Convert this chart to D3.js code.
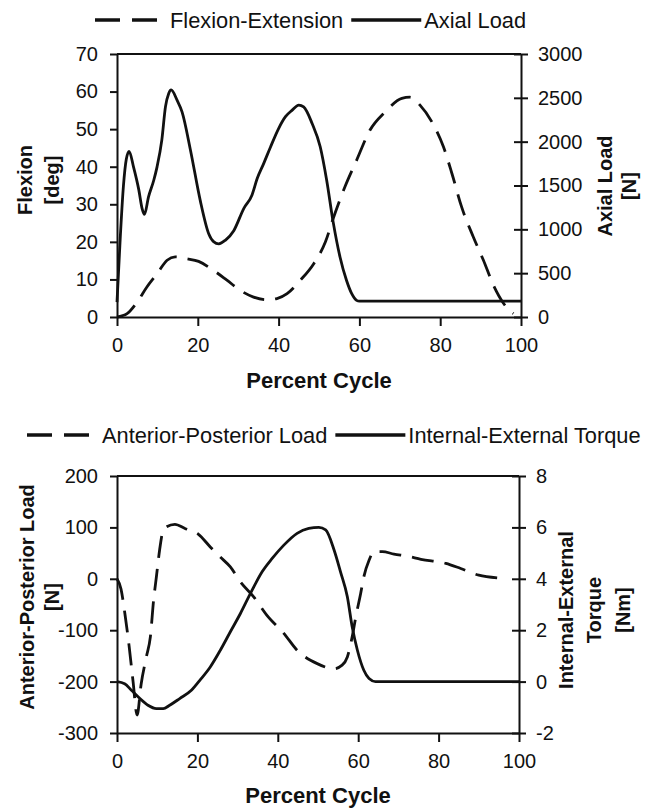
<!DOCTYPE html>
<html lang="en">
<head>
<meta charset="UTF-8">
<title>Gait Cycle Kinematics and Loads</title>
<script src="https://d3js.org/d3.v7.min.js"></script>
<style>
    body { margin: 0; background: #fff; }
    svg { display: block; font-family: "Liberation Sans", Arial, sans-serif; }
    .tick text { font-size: 20px; fill: #111; }
    .axis-title { font-size: 20px; font-weight: bold; fill: #111; }
    .x-title { font-size: 22px; }
    .legend text { font-size: 21.8px; fill: #111; }
</style>
</head>
<body>
<svg id="chart" width="664" height="809"></svg>
<script>
    // shared x axis (percent of cycle)
    const xTicks = [0, 20, 40, 60, 80, 100];

    // top panel: flexion-extension [deg] and axial load [N]
    const flexionPct = [0, 2.5, 5, 7.4, 9.9, 12.4, 14.4, 17.3, 20.2, 23.9, 27.2, 30.5, 33.8, 37.1, 39.6, 42.1, 45.4, 48.7, 51.6, 53.6, 56.4, 59.3, 62.6, 66.4, 70.5, 72.5, 75, 77.9, 80.8, 82.9, 85.3, 88.2, 90.7, 93.2, 95.7, 98.1];
    const flexionDeg = [0, 0.9, 4, 8, 11.5, 15.1, 16, 15.5, 14.8, 12.4, 9.8, 7.1, 5.3, 4.6, 4.9, 6.2, 9.8, 14.2, 20, 26.5, 34.6, 41.7, 49.7, 54.6, 58.2, 58.5, 56.4, 52, 45.3, 38.2, 29.3, 21.3, 15.1, 8.4, 3.6, 0.9];
    const axialPct = [0, 0.8, 1.6, 2.3, 3.0, 4.1, 5.4, 6.2, 6.8, 7.8, 9.1, 9.9, 11.1, 12.0, 12.8, 13.4, 14.9, 16.1, 18.2, 20.6, 22.7, 23.9, 25.2, 26.8, 28.9, 31.4, 33.4, 34.7, 36.3, 38, 40, 41.7, 43.3, 45, 46.2, 48.3, 50.3, 51.9, 53.5, 55.2, 56.8, 58.1, 59.3, 60, 100];
    const axialN = [170, 900, 1500, 1800, 1890, 1710, 1450, 1240, 1170, 1370, 1560, 1710, 2020, 2400, 2550, 2590, 2470, 2340, 1900, 1330, 950, 860, 835, 875, 985, 1240, 1390, 1580, 1750, 1940, 2150, 2285, 2357, 2417, 2396, 2207, 1942, 1561, 1085, 685, 419, 266, 190, 180, 180];
    const flexionTicks = [0, 10, 20, 30, 40, 50, 60, 70];
    const axialTicks = [0, 500, 1000, 1500, 2000, 2500, 3000];

    // bottom panel: anterior-posterior load [N] and internal-external torque [Nm]
    const apPct = [0, 1, 2, 3, 4, 5, 6, 7.3, 8.3, 9.1, 9.8, 10.6, 11.5, 12.3, 14.4, 16.9, 20.2, 23.2, 25.6, 28.2, 30.7, 34, 37.3, 41.5, 44.8, 49.8, 53.9, 56, 57.3, 58.5, 59.4, 60.6, 61.4, 62.7, 63.9, 66, 68.9, 72.2, 75.6, 81.8, 85.5, 90, 95.5, 97];
    const apN = [0, -20, -70, -130, -200, -265, -205, -152, -113, -42, 4, 56, 95, 101, 106, 98, 87, 62, 43, 23, -6, -35, -71, -106, -139, -165, -175, -168, -152, -113, -74, -29, 4, 36, 53, 53, 48, 44, 38, 30, 20, 7, 1, 0];
    const torquePct = [0, 1.9, 3.6, 5.7, 7.7, 9.8, 11.5, 13.1, 15.6, 18.5, 20.6, 23.2, 25.7, 28.2, 30.7, 33.2, 36.1, 38.6, 41.5, 44.8, 47.7, 50.2, 51.9, 54, 55.6, 57.3, 58.5, 59.8, 61.4, 62.7, 64.3, 100];
    const torqueNm = [0, -0.08, -0.34, -0.66, -0.92, -1.05, -1.05, -0.92, -0.66, -0.34, 0.05, 0.57, 1.22, 1.94, 2.65, 3.43, 4.27, 4.79, 5.31, 5.77, 5.96, 6.0, 5.9, 5.12, 4.27, 3.3, 2.13, 1.22, 0.44, 0.12, 0, 0];
    const apTicks = [-300, -200, -100, 0, 100, 200];
    const torqueTicks = [-2, 0, 2, 4, 6, 8];

    const svg = d3.select("#chart");
    const ink = "#111";
    const plain = d => `${d}`; // no thousands separator, plain hyphen minus

    const panels = [
        {
            left: 117, right: 521, top: 54, bottom: 317,
            leftTicks: flexionTicks, rightTicks: axialTicks,
            dashed: d3.zip(flexionPct, flexionDeg), solid: d3.zip(axialPct, axialN),
            legend: { x: 95, y: 20, dashed: "Flexion-Extension", solid: "Axial Load" },
            leftTitle: { y: 180, lines: [["Flexion", 25], ["[deg]", 52]] },
            rightTitle: { y: 186, lines: [["Axial Load", 605], ["[N]", 629]] },
            xTitleY: 380
        },
        {
            left: 117, right: 519, top: 476, bottom: 733,
            leftTicks: apTicks, rightTicks: torqueTicks,
            dashed: d3.zip(apPct, apN), solid: d3.zip(torquePct, torqueNm),
            legend: { x: 27, y: 435, dashed: "Anterior-Posterior Load", solid: "Internal-External Torque" },
            leftTitle: { y: 597, lines: [["Anterior-Posterior Load", 27], ["[N]", 52]] },
            rightTitle: { y: 610, lines: [["Internal-External", 566], ["Torque", 594], ["[Nm]", 623]] },
            xTitleY: 795
        }
    ];

    function styleAxis(g) {
        g.selectAll("path, line").attr("stroke", ink).attr("stroke-width", 2);
        g.selectAll("text").attr("font-family", null).attr("font-size", null);
    }

    function drawPanel(p) {
        const g = svg.append("g");

        const x = d3.scaleLinear().domain([0, 100]).range([p.left, p.right]);
        const yL = d3.scaleLinear().domain(d3.extent(p.leftTicks)).range([p.bottom, p.top]);
        const yR = d3.scaleLinear().domain(d3.extent(p.rightTicks)).range([p.bottom, p.top]);

        // top border of the plot
        g.append("line")
            .attr("x1", p.left).attr("x2", p.right)
            .attr("y1", p.top).attr("y2", p.top)
            .attr("stroke", ink).attr("stroke-width", 2);

        g.append("g")
            .attr("transform", `translate(${p.left},0)`)
            .call(d3.axisLeft(yL).tickValues(p.leftTicks).tickFormat(plain)
                .tickSize(7).tickPadding(12).tickSizeOuter(0))
            .call(styleAxis);

        const right = g.append("g")
            .attr("transform", `translate(${p.right},0)`)
            .call(d3.axisRight(yR).tickValues(p.rightTicks).tickFormat(plain)
                .tickSize(7).tickPadding(10).tickSizeOuter(0))
            .call(styleAxis);
        // right ticks cross the axis
        right.selectAll(".tick line").attr("x1", -7);

        g.append("g")
            .attr("transform", `translate(0,${p.bottom})`)
            .call(d3.axisBottom(x).tickValues(xTicks).tickFormat(plain)
                .tickSize(9).tickPadding(12).tickSizeOuter(0))
            .call(styleAxis);

        const lineL = d3.line().x(d => x(d[0])).y(d => yL(d[1])).curve(d3.curveMonotoneX);
        const lineR = d3.line().x(d => x(d[0])).y(d => yR(d[1])).curve(d3.curveMonotoneX);

        g.append("path")
            .datum(p.dashed)
            .attr("d", lineL)
            .attr("fill", "none")
            .attr("stroke", ink)
            .attr("stroke-width", 2.8)
            .attr("stroke-dasharray", "22,11");

        g.append("path")
            .datum(p.solid)
            .attr("d", lineR)
            .attr("fill", "none")
            .attr("stroke", ink)
            .attr("stroke-width", 2.8)
            .attr("stroke-linejoin", "round");

        // axis titles
        [p.leftTitle, p.rightTitle].forEach(t => {
            t.lines.forEach(([label, cx]) => {
                g.append("text")
                    .attr("class", "axis-title")
                    .attr("transform", `translate(${cx},${t.y}) rotate(-90)`)
                    .attr("text-anchor", "middle")
                    .attr("dominant-baseline", "central")
                    .text(label);
            });
        });

        g.append("text")
            .attr("class", "axis-title x-title")
            .attr("x", (p.left + p.right) / 2)
            .attr("y", p.xTitleY)
            .attr("text-anchor", "middle")
            .attr("dominant-baseline", "central")
            .text("Percent Cycle");

        // legend
        const lg = g.append("g").attr("class", "legend");
        const L = p.legend;
        [0, 37].forEach(off => {
            lg.append("line")
                .attr("x1", L.x + off).attr("x2", L.x + off + 25)
                .attr("y1", L.y).attr("y2", L.y)
                .attr("stroke", ink).attr("stroke-width", 3.5);
        });
        const t1 = lg.append("text")
            .attr("x", L.x + 75).attr("y", L.y)
            .attr("dominant-baseline", "central")
            .text(L.dashed);
        const end1 = L.x + 75 + t1.node().getComputedTextLength();
        lg.append("line")
            .attr("x1", end1 + 8).attr("x2", end1 + 78)
            .attr("y1", L.y).attr("y2", L.y)
            .attr("stroke", ink).attr("stroke-width", 3.5);
        lg.append("text")
            .attr("x", end1 + 81).attr("y", L.y)
            .attr("dominant-baseline", "central")
            .text(L.solid);
    }

    panels.forEach(drawPanel);
</script>
</body>
</html>
